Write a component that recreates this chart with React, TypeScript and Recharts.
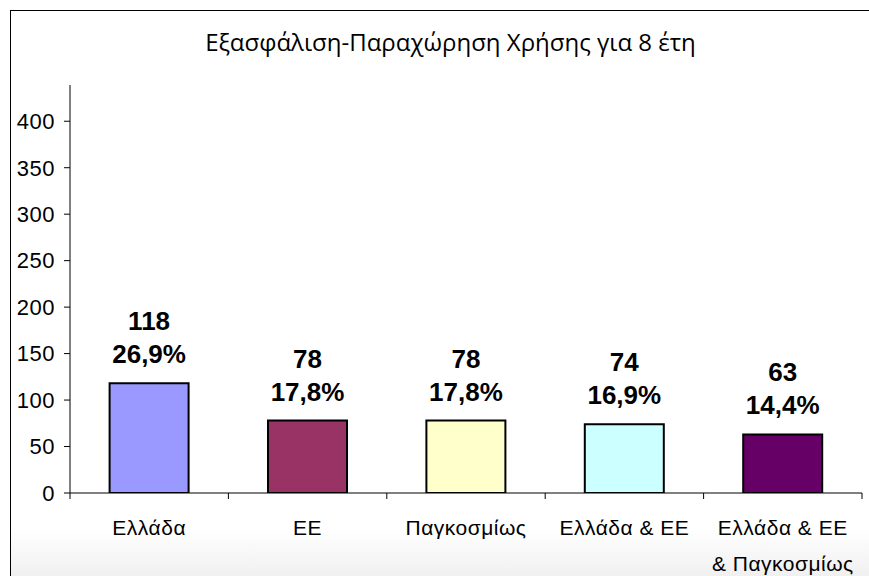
import { BarChart, Bar, XAxis, YAxis, Cell, LabelList } from "recharts";

const categories = ["Ελλάδα", "ΕΕ", "Παγκοσμίως", "Ελλάδα & ΕΕ", "Ελλάδα & ΕΕ\n& Παγκοσμίως"];
const counts = [118, 78, 78, 74, 63];
const shares = ["26,9%", "17,8%", "17,8%", "16,9%", "14,4%"];
const colors = ["#9999FF", "#993366", "#FFFFCC", "#CCFFFF", "#660066"];
const yTicks = [0, 50, 100, 150, 200, 250, 300, 350, 400];

const W = 869;
const H = 576;
const M = { top: 85, right: 7, left: 0, bottom: 0 };
const Y_W = 70;
const X_H = 83;
const FONT = "'Liberation Sans', Arial, sans-serif";

const data = categories.map((name, i) => ({ name, value: counts[i], pct: shares[i] }));
const step = (W - M.left - M.right - Y_W) / categories.length;

function XTick(props: any) {
  const { x, y, payload, index } = props;
  const lines = String(payload.value).split("\n");
  return (
    <g>
      <line x1={x - step / 2} x2={x - step / 2} y1={y - 8} y2={y - 2} stroke="#000" />
      {index === categories.length - 1 && (
        <line x1={x + step / 2} x2={x + step / 2} y1={y - 8} y2={y - 2} stroke="#000" />
      )}
      {lines.map((l, i) => (
        <text key={i} x={x} y={y + 26 + i * 36} textAnchor="middle" dominantBaseline="central" fontSize={21} letterSpacing={0.5} fontFamily={FONT} fill="#000">
          {l}
        </text>
      ))}
    </g>
  );
}

function TwoLineLabel(props: any) {
  const { x, y, width, index } = props;
  const cx = x + width / 2;
  return (
    <g fontFamily={FONT} fontWeight="bold" fontSize={26} fill="#000" textAnchor="middle">
      <text x={cx} y={y - 62} dominantBaseline="central">{counts[index]}</text>
      <text x={cx} y={y - 29} dominantBaseline="central">{shares[index]}</text>
    </g>
  );
}

export default function App() {
  return (
    <div style={{ position: "fixed", left: 0, top: 0, width: W, height: H, background: "#fff", overflow: "hidden" }}>
      <div
        style={{
          position: "absolute",
          left: 10,
          top: 10,
          width: W + 20,
          height: H + 20,
          borderLeft: "1px solid #000",
          borderTop: "1px solid #000",
          background: "linear-gradient(to bottom, #ffffff 0%, #ffffff 87%, #e6e6e6 100%)",
        }}
      />
      <div
        style={{
          position: "absolute",
          left: 16,
          top: 25,
          width: W,
          textAlign: "center",
          fontFamily: "'Open Sans', sans-serif",
          fontSize: 24,
          color: "#000",
        }}
      >
        Εξασφάλιση-Παραχώρηση Χρήσης για 8 έτη
      </div>
      <div style={{ position: "absolute", left: 0, top: 0 }}>
        <BarChart width={W} height={H} data={data} margin={M} barCategoryGap="25%">
          <XAxis
            dataKey="name"
            height={X_H}
            interval={0}
            axisLine={{ stroke: "#000" }}
            tickLine={false}
            tick={<XTick />}
          />
          <YAxis
            width={Y_W}
            domain={[0, 439]}
            ticks={yTicks}
            allowDataOverflow
            axisLine={{ stroke: "#000" }}
            tickLine={{ stroke: "#000" }}
            tickSize={6}
            tickMargin={9}
            tick={{ fill: "#000", fontSize: 22, fontFamily: FONT, letterSpacing: 0.5 }}
          />
          <Bar dataKey="value" stroke="#000" strokeWidth={2} isAnimationActive={false}>
            {data.map((d, i) => (
              <Cell key={d.name} fill={colors[i]} />
            ))}
            <LabelList dataKey="value" content={<TwoLineLabel />} />
          </Bar>
        </BarChart>
      </div>
    </div>
  );
}
